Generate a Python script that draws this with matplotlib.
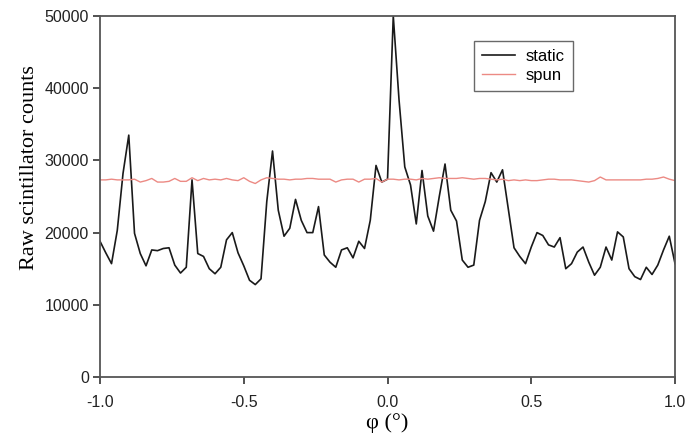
import numpy as np
import matplotlib
matplotlib.use("Agg")
import matplotlib.pyplot as plt

# angle grid, 0.02 deg step
phi = np.round(np.arange(-1.0, 1.0001, 0.02), 2)

static = [18800, 17200, 15700, 20300, 28200, 33500, 19900, 17100, 15400, 17600,
          17500, 17800, 17900, 15500, 14400, 15200, 27300, 17100, 16700, 15000,
          14300, 15200, 19000, 20000, 17200, 15400, 13400, 12800, 13600, 24300,
          31300, 23100, 19500, 20600, 24600, 21700, 20000, 20000, 23600, 16900,
          15900, 15200, 17600, 17900, 16500, 18800, 17800, 21700, 29300, 27000,
          27400, 50000, 38400, 29100, 26600, 21200, 28600, 22300, 20200, 25000,
          29500, 23100, 21600, 16200, 15200, 15500, 21700, 24300, 28300, 27000,
          28700, 23300, 17900, 16700, 15700, 18000, 20000, 19600, 18300, 18000,
          19300, 15000, 15700, 17300, 18000, 15900, 14100, 15200, 18000, 16200,
          20100, 19400, 15000, 13900, 13500, 15200, 14200, 15500, 17600, 19500,
          15700]

spun = [27300, 27300, 27400, 27300, 27300, 27300, 27400, 27000, 27200, 27500,
        27000, 27000, 27100, 27500, 27100, 27100, 27600, 27200, 27500, 27300,
        27400, 27300, 27500, 27300, 27200, 27600, 27100, 26800, 27300, 27600,
        27500, 27400, 27400, 27300, 27400, 27400, 27500, 27500, 27400, 27400,
        27400, 27000, 27300, 27400, 27400, 27000, 27400, 27400, 27500, 27000,
        27400, 27400, 27300, 27400, 27400, 27300, 27500, 27400, 27500, 27600,
        27500, 27500, 27500, 27600, 27500, 27400, 27500, 27500, 27400, 27300,
        27400, 27200, 27300, 27200, 27300, 27200, 27200, 27300, 27400, 27400,
        27300, 27300, 27300, 27200, 27100, 27000, 27200, 27700, 27300, 27300,
        27300, 27300, 27300, 27300, 27300, 27400, 27400, 27500, 27700, 27400,
        27200]

yticks = [0, 10000, 20000, 30000, 40000, 50000]
xticks = [-1.0, -0.5, 0.0, 0.5, 1.0]

plt.rcParams['font.family'] = ['Liberation Sans', 'DejaVu Sans']
serif = ['Liberation Serif', 'DejaVu Serif']

fig = plt.figure(figsize=(6.86, 4.36), dpi=100)
ax = fig.add_axes([0.1458, 0.1353, 0.8382, 0.828])

ax.plot(phi, static, color='#1a1a1a', lw=1.2, label='static')
ax.plot(phi, spun, color='#ec8a84', lw=1.0, label='spun')

ax.set_xlim(-1.0, 1.0)
ax.set_ylim(0, 50000)
ax.set_xticks(xticks)
ax.set_xticklabels(['%.1f' % t for t in xticks])
ax.set_yticks(yticks)
ax.set_yticklabels([str(t) for t in yticks])
ax.tick_params(direction='out', length=5, width=1.2, colors='#333333',
               labelsize=11.5, labelcolor='#222222')
ax.tick_params(axis='x', pad=8)
ax.tick_params(axis='y', pad=3)

for s in ax.spines.values():
    s.set_color('#555555')
    s.set_linewidth(1.3)

ax.set_ylabel('Raw scintillator counts', family=serif, fontsize=16)
ax.yaxis.set_label_coords(-0.106, 0.58)
ax.set_xlabel('φ (°)', family=serif, fontsize=16, labelpad=2)

leg = ax.legend(loc='upper left', bbox_to_anchor=(0.650, 0.931), borderaxespad=0,
                fontsize=12, frameon=True, fancybox=False, handlelength=2.0,
                borderpad=0.5, labelspacing=0.2, handletextpad=0.6)
leg.get_frame().set_edgecolor('#444444')
leg.get_frame().set_linewidth(1.0)

fig.savefig('out.png', dpi=100)
